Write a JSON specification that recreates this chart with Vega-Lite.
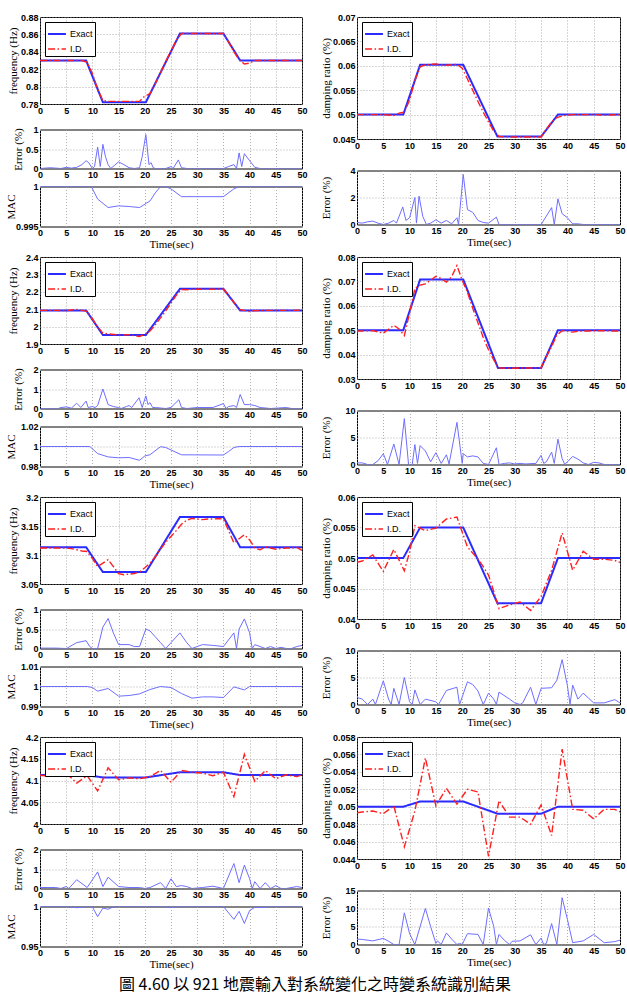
{
"$schema": "https://vega.github.io/schema/vega-lite/v6.json",
"padding": {"left": 4, "top": 12, "right": 5, "bottom": 1},
"config": {
  "view": {"stroke": "#000", "strokeWidth": 1},
  "axis": {"domain": false, "ticks": false, "tickSize": 0, "grid": true, "gridColor": "#9a9a9a", "gridDash": [1, 2], "gridWidth": 0.8,
    "labelFont": "Liberation Sans", "labelFontSize": 9, "labelFontWeight": "bold", "labelColor": "#000", "labelPadding": 2,
    "labelFlush": false, "labelOverlap": false, "labelBound": false,
    "titleFont": "Liberation Serif", "titleFontSize": 11, "titleFontWeight": "normal", "titleColor": "#000"},
  "axisX": {"titlePadding": 1},
  "legend": {"orient": "top-left", "offset": 5, "padding": 2, "strokeColor": "#000", "fillColor": "#fff", "labelFont": "Liberation Sans", "labelFontSize": 9, "labelColor": "#000", "labelOffset": 3, "symbolType": "stroke", "symbolSize": 320, "symbolStrokeWidth": 1.6, "rowPadding": 0, "cornerRadius": 0}
},
"datasets": {
"F1": [
{"s":"Exact","t":0,"v":0.83},{"s":"Exact","t":8.8,"v":0.83},{"s":"Exact","t":12,"v":0.782},{"s":"Exact","t":20.2,"v":0.782},{"s":"Exact","t":26.7,"v":0.861},{"s":"Exact","t":35,"v":0.861},{"s":"Exact","t":38.2,"v":0.83},{"s":"Exact","t":50,"v":0.83},
{"s":"I.D.","t":0,"v":0.830},{"s":"I.D.","t":2,"v":0.830},{"s":"I.D.","t":4,"v":0.830},{"s":"I.D.","t":6,"v":0.830},{"s":"I.D.","t":8,"v":0.830},{"s":"I.D.","t":9,"v":0.828},{"s":"I.D.","t":10,"v":0.815},{"s":"I.D.","t":11,"v":0.797},{"s":"I.D.","t":12,"v":0.784},{"s":"I.D.","t":13,"v":0.783},{"s":"I.D.","t":15,"v":0.783},{"s":"I.D.","t":17,"v":0.783},{"s":"I.D.","t":19,"v":0.783},{"s":"I.D.","t":20,"v":0.789},{"s":"I.D.","t":21,"v":0.792},{"s":"I.D.","t":22,"v":0.803},{"s":"I.D.","t":23,"v":0.816},{"s":"I.D.","t":24,"v":0.829},{"s":"I.D.","t":25,"v":0.841},{"s":"I.D.","t":26,"v":0.853},{"s":"I.D.","t":27,"v":0.861},{"s":"I.D.","t":29,"v":0.861},{"s":"I.D.","t":31,"v":0.861},{"s":"I.D.","t":33,"v":0.861},{"s":"I.D.","t":35,"v":0.861},{"s":"I.D.","t":36,"v":0.851},{"s":"I.D.","t":37,"v":0.840},{"s":"I.D.","t":38,"v":0.831},{"s":"I.D.","t":39,"v":0.826},{"s":"I.D.","t":40,"v":0.827},{"s":"I.D.","t":41,"v":0.830},{"s":"I.D.","t":43,"v":0.830},{"s":"I.D.","t":45,"v":0.830},{"s":"I.D.","t":47,"v":0.830},{"s":"I.D.","t":50,"v":0.830}],
"E1": [{"t":0,"v":0},{"t":2,"v":0.02},{"t":3,"v":0.01},{"t":4,"v":0},{"t":5,"v":0.03},{"t":6,"v":0.01},{"t":7,"v":0.03},{"t":8,"v":0.1},{"t":8.8,"v":0.2},{"t":9.3,"v":0.15},{"t":10,"v":0},{"t":10.4,"v":0.05},{"t":11,"v":0.55},{"t":11.5,"v":0.05},{"t":12,"v":0.62},{"t":12.5,"v":0.3},{"t":13,"v":0.1},{"t":13.5,"v":0},{"t":15,"v":0.17},{"t":16,"v":0.1},{"t":17,"v":0.02},{"t":18,"v":0},{"t":19,"v":0.02},{"t":19.5,"v":0.3},{"t":20.2,"v":0.87},{"t":20.8,"v":0.1},{"t":21.2,"v":0.15},{"t":21.6,"v":0.02},{"t":22,"v":0},{"t":24,"v":0},{"t":25,"v":0.05},{"t":25.4,"v":0},{"t":26.4,"v":0.22},{"t":27,"v":0.02},{"t":28,"v":0},{"t":35,"v":0},{"t":36,"v":0.05},{"t":37,"v":0.1},{"t":37.5,"v":0},{"t":38,"v":0.4},{"t":38.5,"v":0.05},{"t":39,"v":0.38},{"t":40,"v":0.2},{"t":41,"v":0.03},{"t":42,"v":0},{"t":50,"v":0}],
"M1": [{"t":0,"v":1},{"t":9.8,"v":1},{"t":11,"v":0.99843},{"t":13,"v":0.99737},{"t":15,"v":0.99758},{"t":17,"v":0.9975},{"t":19,"v":0.99737},{"t":21,"v":0.9982},{"t":22,"v":0.9992},{"t":23,"v":1},{"t":24,"v":1},{"t":25,"v":0.9997},{"t":27,"v":0.99873},{"t":35,"v":0.99873},{"t":37,"v":0.9997},{"t":38,"v":1},{"t":50,"v":1}],
"D1": [
{"s":"Exact","t":0,"v":0.05},{"s":"Exact","t":8.8,"v":0.05},{"s":"Exact","t":12,"v":0.0602},{"s":"Exact","t":20.2,"v":0.0602},{"s":"Exact","t":26.7,"v":0.0455},{"s":"Exact","t":35,"v":0.0455},{"s":"Exact","t":38.2,"v":0.05},{"s":"Exact","t":50,"v":0.05},
{"s":"I.D.","t":0,"v":0.05},{"s":"I.D.","t":3,"v":0.05},{"s":"I.D.","t":5,"v":0.05},{"s":"I.D.","t":7,"v":0.0498},{"s":"I.D.","t":8,"v":0.0503},{"s":"I.D.","t":9,"v":0.0505},{"s":"I.D.","t":10,"v":0.053},{"s":"I.D.","t":11,"v":0.057},{"s":"I.D.","t":12,"v":0.0598},{"s":"I.D.","t":13,"v":0.0602},{"s":"I.D.","t":15,"v":0.0604},{"s":"I.D.","t":16,"v":0.0602},{"s":"I.D.","t":17,"v":0.0601},{"s":"I.D.","t":19,"v":0.0603},{"s":"I.D.","t":20,"v":0.0595},{"s":"I.D.","t":21,"v":0.0573},{"s":"I.D.","t":22,"v":0.055},{"s":"I.D.","t":23,"v":0.0527},{"s":"I.D.","t":24,"v":0.0505},{"s":"I.D.","t":25,"v":0.0485},{"s":"I.D.","t":26,"v":0.0466},{"s":"I.D.","t":27,"v":0.0455},{"s":"I.D.","t":29,"v":0.0454},{"s":"I.D.","t":31,"v":0.0454},{"s":"I.D.","t":33,"v":0.0454},{"s":"I.D.","t":35,"v":0.0454},{"s":"I.D.","t":36,"v":0.047},{"s":"I.D.","t":37,"v":0.0485},{"s":"I.D.","t":38,"v":0.0494},{"s":"I.D.","t":39,"v":0.0497},{"s":"I.D.","t":40,"v":0.0499},{"s":"I.D.","t":41,"v":0.05},{"s":"I.D.","t":43,"v":0.05},{"s":"I.D.","t":45,"v":0.05},{"s":"I.D.","t":47,"v":0.0499},{"s":"I.D.","t":50,"v":0.05}],
"ER1": [{"t":0,"v":0.15},{"t":1,"v":0.1},{"t":2,"v":0.2},{"t":3,"v":0.25},{"t":4,"v":0.1},{"t":5,"v":0},{"t":6,"v":0.1},{"t":7,"v":0.3},{"t":7.5,"v":0.1},{"t":8.7,"v":1.3},{"t":9.3,"v":0.3},{"t":10,"v":0.5},{"t":11,"v":2.0},{"t":11.3,"v":0.1},{"t":11.8,"v":2.1},{"t":12.5,"v":0.6},{"t":13.2,"v":0},{"t":14,"v":0.1},{"t":15,"v":0.35},{"t":16,"v":0.1},{"t":17,"v":0.3},{"t":18,"v":0.05},{"t":19,"v":0.5},{"t":19.3,"v":0},{"t":20.2,"v":3.7},{"t":21,"v":1.1},{"t":22,"v":0.9},{"t":23,"v":0.3},{"t":24,"v":0.15},{"t":25,"v":0.1},{"t":26.5,"v":0.55},{"t":27,"v":0},{"t":35,"v":0},{"t":37,"v":1.25},{"t":37.5,"v":0},{"t":38.2,"v":1.9},{"t":39,"v":0.8},{"t":40,"v":0.5},{"t":41,"v":0.05},{"t":42,"v":0.05},{"t":43,"v":0},{"t":50,"v":0}],
"F2": [
{"s":"Exact","t":0,"v":2.093},{"s":"Exact","t":8.8,"v":2.093},{"s":"Exact","t":12,"v":1.952},{"s":"Exact","t":20.2,"v":1.952},{"s":"Exact","t":26.7,"v":2.217},{"s":"Exact","t":35,"v":2.217},{"s":"Exact","t":38.2,"v":2.093},{"s":"Exact","t":50,"v":2.093},
{"s":"I.D.","t":0,"v":2.093},{"s":"I.D.","t":3,"v":2.093},{"s":"I.D.","t":5,"v":2.092},{"s":"I.D.","t":7,"v":2.098},{"s":"I.D.","t":9,"v":2.088},{"s":"I.D.","t":10,"v":2.045},{"s":"I.D.","t":11,"v":2.0},{"s":"I.D.","t":12,"v":1.962},{"s":"I.D.","t":13,"v":1.958},{"s":"I.D.","t":15,"v":1.952},{"s":"I.D.","t":17,"v":1.953},{"s":"I.D.","t":19,"v":1.943},{"s":"I.D.","t":20,"v":1.955},{"s":"I.D.","t":21,"v":1.975},{"s":"I.D.","t":22,"v":2.01},{"s":"I.D.","t":23,"v":2.05},{"s":"I.D.","t":24,"v":2.09},{"s":"I.D.","t":25,"v":2.135},{"s":"I.D.","t":26,"v":2.18},{"s":"I.D.","t":27,"v":2.213},{"s":"I.D.","t":28,"v":2.212},{"s":"I.D.","t":30,"v":2.215},{"s":"I.D.","t":32,"v":2.215},{"s":"I.D.","t":35,"v":2.216},{"s":"I.D.","t":36,"v":2.18},{"s":"I.D.","t":37,"v":2.14},{"s":"I.D.","t":38,"v":2.098},{"s":"I.D.","t":39,"v":2.093},{"s":"I.D.","t":40,"v":2.087},{"s":"I.D.","t":41,"v":2.092},{"s":"I.D.","t":43,"v":2.093},{"s":"I.D.","t":45,"v":2.093},{"s":"I.D.","t":47,"v":2.093},{"s":"I.D.","t":50,"v":2.094}],
"E2": [{"t":0,"v":0},{"t":3.5,"v":0},{"t":4,"v":0.05},{"t":5,"v":0.08},{"t":6,"v":0.02},{"t":7,"v":0.27},{"t":7.8,"v":0.05},{"t":8.8,"v":0.38},{"t":9.2,"v":0.05},{"t":10,"v":0.1},{"t":10.5,"v":0.05},{"t":11,"v":0.15},{"t":12,"v":1.0},{"t":13,"v":0.2},{"t":14,"v":0.1},{"t":15,"v":0.05},{"t":15.5,"v":0},{"t":16.5,"v":0.1},{"t":17,"v":0.15},{"t":17.5,"v":0.05},{"t":18.9,"v":0.55},{"t":19.5,"v":0.05},{"t":20.2,"v":0.65},{"t":20.6,"v":0.2},{"t":21,"v":0.3},{"t":21.5,"v":0.05},{"t":22,"v":0.05},{"t":24,"v":0},{"t":25,"v":0.05},{"t":26.5,"v":0.45},{"t":27,"v":0.05},{"t":28,"v":0},{"t":30,"v":0.05},{"t":33,"v":0.05},{"t":35,"v":0.25},{"t":35.5,"v":0},{"t":36,"v":0.1},{"t":37,"v":0.15},{"t":37.5,"v":0.05},{"t":38.2,"v":0.72},{"t":39,"v":0.2},{"t":40,"v":0.2},{"t":41,"v":0.15},{"t":42,"v":0.05},{"t":44,"v":0},{"t":47,"v":0.05},{"t":48,"v":0},{"t":50,"v":0}],
"M2": [{"t":0,"v":1},{"t":9.5,"v":1},{"t":11,"v":0.9929},{"t":13,"v":0.9896},{"t":15,"v":0.9887},{"t":17,"v":0.989},{"t":19,"v":0.9862},{"t":20,"v":0.9905},{"t":21,"v":0.9918},{"t":23,"v":0.9998},{"t":24,"v":0.999},{"t":25,"v":0.9965},{"t":27,"v":0.9917},{"t":35,"v":0.9915},{"t":36,"v":0.995},{"t":37,"v":0.999},{"t":38,"v":1},{"t":50,"v":1}],
"D2": [
{"s":"Exact","t":0,"v":0.05},{"s":"Exact","t":8.8,"v":0.05},{"s":"Exact","t":12,"v":0.0708},{"s":"Exact","t":20.2,"v":0.0708},{"s":"Exact","t":26.8,"v":0.0345},{"s":"Exact","t":35,"v":0.0345},{"s":"Exact","t":38.2,"v":0.05},{"s":"Exact","t":50,"v":0.05},
{"s":"I.D.","t":0,"v":0.0497},{"s":"I.D.","t":1,"v":0.0497},{"s":"I.D.","t":3,"v":0.0498},{"s":"I.D.","t":5,"v":0.0488},{"s":"I.D.","t":7,"v":0.052},{"s":"I.D.","t":8,"v":0.0505},{"s":"I.D.","t":9,"v":0.0478},{"s":"I.D.","t":10,"v":0.057},{"s":"I.D.","t":11,"v":0.0671},{"s":"I.D.","t":12,"v":0.0685},{"s":"I.D.","t":13,"v":0.069},{"s":"I.D.","t":14,"v":0.0705},{"s":"I.D.","t":15,"v":0.0721},{"s":"I.D.","t":16,"v":0.0712},{"s":"I.D.","t":17,"v":0.0697},{"s":"I.D.","t":18,"v":0.072},{"s":"I.D.","t":19,"v":0.0765},{"s":"I.D.","t":20,"v":0.0705},{"s":"I.D.","t":21,"v":0.0655},{"s":"I.D.","t":22,"v":0.059},{"s":"I.D.","t":23,"v":0.053},{"s":"I.D.","t":24,"v":0.047},{"s":"I.D.","t":25,"v":0.042},{"s":"I.D.","t":26,"v":0.0378},{"s":"I.D.","t":27,"v":0.0345},{"s":"I.D.","t":29,"v":0.0344},{"s":"I.D.","t":31,"v":0.0345},{"s":"I.D.","t":33,"v":0.0345},{"s":"I.D.","t":35,"v":0.0346},{"s":"I.D.","t":36,"v":0.039},{"s":"I.D.","t":37,"v":0.0433},{"s":"I.D.","t":38,"v":0.048},{"s":"I.D.","t":39,"v":0.0498},{"s":"I.D.","t":40,"v":0.0496},{"s":"I.D.","t":41,"v":0.0492},{"s":"I.D.","t":42,"v":0.0496},{"s":"I.D.","t":44,"v":0.0497},{"s":"I.D.","t":46,"v":0.0498},{"s":"I.D.","t":48,"v":0.0497},{"s":"I.D.","t":50,"v":0.0497}],
"ER2": [{"t":0,"v":0.3},{"t":1,"v":0.3},{"t":2,"v":0},{"t":3,"v":0},{"t":4,"v":0.7},{"t":5,"v":2.0},{"t":5.8,"v":0},{"t":7,"v":3.8},{"t":8,"v":0},{"t":9,"v":8.5},{"t":9.8,"v":0},{"t":10.5,"v":0},{"t":11,"v":3.7},{"t":11.5,"v":0.2},{"t":12,"v":3.5},{"t":13,"v":2.5},{"t":14,"v":0.5},{"t":15,"v":2.2},{"t":16,"v":0.2},{"t":17,"v":1.8},{"t":17.5,"v":0.1},{"t":19,"v":7.8},{"t":20,"v":0.2},{"t":20.2,"v":2.0},{"t":21,"v":1.4},{"t":22,"v":1.6},{"t":23,"v":1.4},{"t":24,"v":0.2},{"t":25,"v":0},{"t":26.5,"v":3.1},{"t":27,"v":0},{"t":28,"v":0.2},{"t":29,"v":0.3},{"t":30,"v":0.1},{"t":31,"v":0.2},{"t":32,"v":0.1},{"t":34,"v":0.2},{"t":35,"v":1.7},{"t":35.5,"v":0.2},{"t":36,"v":0.5},{"t":37,"v":2.3},{"t":37.5,"v":0.2},{"t":38.2,"v":4.7},{"t":39,"v":1.1},{"t":39.5,"v":0},{"t":40,"v":0.5},{"t":41,"v":1.5},{"t":42,"v":1.0},{"t":43,"v":0.3},{"t":44,"v":0},{"t":45,"v":0.4},{"t":46,"v":0.3},{"t":47,"v":0},{"t":50,"v":0}],
"F3": [
{"s":"Exact","t":0,"v":3.1135},{"s":"Exact","t":8.8,"v":3.1135},{"s":"Exact","t":12,"v":3.0705},{"s":"Exact","t":20.2,"v":3.0705},{"s":"Exact","t":26.7,"v":3.1655},{"s":"Exact","t":35,"v":3.1655},{"s":"Exact","t":38.2,"v":3.1135},{"s":"Exact","t":50,"v":3.1135},
{"s":"I.D.","t":0,"v":3.112},{"s":"I.D.","t":2,"v":3.112},{"s":"I.D.","t":4,"v":3.112},{"s":"I.D.","t":5,"v":3.112},{"s":"I.D.","t":6,"v":3.111},{"s":"I.D.","t":7,"v":3.109},{"s":"I.D.","t":8,"v":3.107},{"s":"I.D.","t":9,"v":3.106},{"s":"I.D.","t":10,"v":3.094},{"s":"I.D.","t":11,"v":3.080},{"s":"I.D.","t":12,"v":3.086},{"s":"I.D.","t":13,"v":3.092},{"s":"I.D.","t":14,"v":3.080},{"s":"I.D.","t":15,"v":3.068},{"s":"I.D.","t":16,"v":3.066},{"s":"I.D.","t":17,"v":3.067},{"s":"I.D.","t":18,"v":3.068},{"s":"I.D.","t":19,"v":3.071},{"s":"I.D.","t":20,"v":3.078},{"s":"I.D.","t":21,"v":3.086},{"s":"I.D.","t":22,"v":3.097},{"s":"I.D.","t":23,"v":3.110},{"s":"I.D.","t":24,"v":3.122},{"s":"I.D.","t":25,"v":3.132},{"s":"I.D.","t":26,"v":3.142},{"s":"I.D.","t":27,"v":3.153},{"s":"I.D.","t":28,"v":3.160},{"s":"I.D.","t":29,"v":3.163},{"s":"I.D.","t":30,"v":3.162},{"s":"I.D.","t":31,"v":3.161},{"s":"I.D.","t":32,"v":3.162},{"s":"I.D.","t":33,"v":3.162},{"s":"I.D.","t":34,"v":3.163},{"s":"I.D.","t":35,"v":3.162},{"s":"I.D.","t":36,"v":3.142},{"s":"I.D.","t":37,"v":3.121},{"s":"I.D.","t":38,"v":3.128},{"s":"I.D.","t":39,"v":3.135},{"s":"I.D.","t":40,"v":3.126},{"s":"I.D.","t":41,"v":3.112},{"s":"I.D.","t":42,"v":3.109},{"s":"I.D.","t":43,"v":3.114},{"s":"I.D.","t":44,"v":3.112},{"s":"I.D.","t":45,"v":3.110},{"s":"I.D.","t":46,"v":3.111},{"s":"I.D.","t":47,"v":3.112},{"s":"I.D.","t":48,"v":3.112},{"s":"I.D.","t":49,"v":3.113},{"s":"I.D.","t":50,"v":3.108}],
"E3": [{"t":0,"v":0.01},{"t":3,"v":0.01},{"t":5,"v":0},{"t":5.3,"v":0.02},{"t":7,"v":0.15},{"t":8.8,"v":0.2},{"t":9.5,"v":0.05},{"t":10,"v":0},{"t":11,"v":0},{"t":12,"v":0.55},{"t":13,"v":0.77},{"t":14,"v":0.4},{"t":15,"v":0.1},{"t":17,"v":0.1},{"t":18,"v":0.05},{"t":19,"v":0.05},{"t":20.2,"v":0.5},{"t":21,"v":0.45},{"t":22,"v":0.3},{"t":23,"v":0.15},{"t":24,"v":0},{"t":25,"v":0.15},{"t":26.7,"v":0.4},{"t":28,"v":0.15},{"t":29,"v":0},{"t":30,"v":0.05},{"t":31,"v":0.1},{"t":33,"v":0.08},{"t":35,"v":0.05},{"t":37,"v":0.4},{"t":37.5,"v":0},{"t":38,"v":0.5},{"t":39,"v":0.76},{"t":40,"v":0.4},{"t":40.5,"v":0},{"t":41,"v":0.1},{"t":42,"v":0.05},{"t":43,"v":0},{"t":44,"v":0.05},{"t":45,"v":0},{"t":46,"v":0.03},{"t":47,"v":0},{"t":48,"v":0},{"t":49,"v":0.05},{"t":50,"v":0.08}],
"M3": [{"t":0,"v":1},{"t":9,"v":1},{"t":10,"v":0.9995},{"t":11,"v":0.99767},{"t":13,"v":0.999},{"t":15,"v":0.99517},{"t":17,"v":0.9955},{"t":19,"v":0.9963},{"t":21,"v":0.9985},{"t":23,"v":1},{"t":25,"v":0.9995},{"t":27,"v":0.9965},{"t":29,"v":0.99417},{"t":31,"v":0.9948},{"t":33,"v":0.9948},{"t":35,"v":0.9945},{"t":37,"v":0.9998},{"t":39,"v":0.9983},{"t":40,"v":1},{"t":50,"v":1}],
"D3": [
{"s":"Exact","t":0,"v":0.05},{"s":"Exact","t":8.8,"v":0.05},{"s":"Exact","t":12,"v":0.055},{"s":"Exact","t":20.2,"v":0.055},{"s":"Exact","t":26.7,"v":0.0426},{"s":"Exact","t":35,"v":0.0426},{"s":"Exact","t":38.2,"v":0.05},{"s":"Exact","t":50,"v":0.05},
{"s":"I.D.","t":0,"v":0.0493},{"s":"I.D.","t":1,"v":0.0495},{"s":"I.D.","t":3,"v":0.0505},{"s":"I.D.","t":5,"v":0.0478},{"s":"I.D.","t":7,"v":0.0514},{"s":"I.D.","t":9,"v":0.0479},{"s":"I.D.","t":10,"v":0.051},{"s":"I.D.","t":11,"v":0.0553},{"s":"I.D.","t":13,"v":0.0545},{"s":"I.D.","t":15,"v":0.0549},{"s":"I.D.","t":17,"v":0.0564},{"s":"I.D.","t":19,"v":0.0567},{"s":"I.D.","t":21,"v":0.0518},{"s":"I.D.","t":22,"v":0.0508},{"s":"I.D.","t":23,"v":0.0498},{"s":"I.D.","t":24,"v":0.0486},{"s":"I.D.","t":25,"v":0.0472},{"s":"I.D.","t":26,"v":0.0445},{"s":"I.D.","t":27,"v":0.0417},{"s":"I.D.","t":29,"v":0.0423},{"s":"I.D.","t":31,"v":0.0428},{"s":"I.D.","t":33,"v":0.0414},{"s":"I.D.","t":35,"v":0.0437},{"s":"I.D.","t":37,"v":0.048},{"s":"I.D.","t":39,"v":0.0541},{"s":"I.D.","t":41,"v":0.048},{"s":"I.D.","t":43,"v":0.0511},{"s":"I.D.","t":45,"v":0.0498},{"s":"I.D.","t":47,"v":0.0498},{"s":"I.D.","t":49,"v":0.0496},{"s":"I.D.","t":50,"v":0.0493}],
"ER3": [{"t":0,"v":1.3},{"t":1,"v":1.0},{"t":2,"v":0},{"t":3,"v":1.0},{"t":3.5,"v":0},{"t":5,"v":4.4},{"t":6,"v":1.0},{"t":6.5,"v":0},{"t":7,"v":3.0},{"t":8,"v":0},{"t":9,"v":5.0},{"t":10,"v":0.5},{"t":10.5,"v":0},{"t":11,"v":2.7},{"t":12,"v":0},{"t":13,"v":1.0},{"t":15,"v":0.5},{"t":15.5,"v":0},{"t":17,"v":2.6},{"t":19,"v":3.2},{"t":19.5,"v":0},{"t":21,"v":4.2},{"t":22,"v":3.7},{"t":23,"v":2.5},{"t":24,"v":0},{"t":25,"v":2.1},{"t":26,"v":1.0},{"t":26.5,"v":0},{"t":27,"v":2.3},{"t":29,"v":1.0},{"t":30,"v":0.3},{"t":31,"v":0},{"t":31.5,"v":0.3},{"t":33,"v":3.2},{"t":34,"v":0},{"t":35,"v":3.0},{"t":37,"v":3.1},{"t":38,"v":4.5},{"t":39,"v":8.3},{"t":40,"v":3.5},{"t":40.5,"v":0},{"t":41,"v":3.6},{"t":42,"v":1.0},{"t":43,"v":2.1},{"t":44,"v":1.2},{"t":45,"v":0.3},{"t":47,"v":0.3},{"t":49,"v":0.9},{"t":50,"v":0.3}],
"F4": [
{"s":"Exact","t":0,"v":4.1125},{"s":"Exact","t":8.8,"v":4.1125},{"s":"Exact","t":12,"v":4.107},{"s":"Exact","t":20.2,"v":4.107},{"s":"Exact","t":26.7,"v":4.119},{"s":"Exact","t":35,"v":4.119},{"s":"Exact","t":38.2,"v":4.1125},{"s":"Exact","t":50,"v":4.1125},
{"s":"I.D.","t":0,"v":4.112},{"s":"I.D.","t":1,"v":4.111},{"s":"I.D.","t":3,"v":4.112},{"s":"I.D.","t":5,"v":4.117},{"s":"I.D.","t":7,"v":4.094},{"s":"I.D.","t":9,"v":4.111},{"s":"I.D.","t":11,"v":4.076},{"s":"I.D.","t":13,"v":4.129},{"s":"I.D.","t":15,"v":4.102},{"s":"I.D.","t":17,"v":4.106},{"s":"I.D.","t":19,"v":4.104},{"s":"I.D.","t":21,"v":4.109},{"s":"I.D.","t":23,"v":4.123},{"s":"I.D.","t":25,"v":4.096},{"s":"I.D.","t":27,"v":4.123},{"s":"I.D.","t":29,"v":4.119},{"s":"I.D.","t":31,"v":4.117},{"s":"I.D.","t":33,"v":4.111},{"s":"I.D.","t":35,"v":4.119},{"s":"I.D.","t":37,"v":4.063},{"s":"I.D.","t":39,"v":4.16},{"s":"I.D.","t":41,"v":4.098},{"s":"I.D.","t":43,"v":4.123},{"s":"I.D.","t":45,"v":4.104},{"s":"I.D.","t":47,"v":4.113},{"s":"I.D.","t":49,"v":4.109},{"s":"I.D.","t":50,"v":4.113}],
"E4": [{"t":0,"v":0.05},{"t":3,"v":0.05},{"t":4,"v":0},{"t":5,"v":0.1},{"t":5.5,"v":0},{"t":7,"v":0.45},{"t":9,"v":0.05},{"t":11,"v":0.85},{"t":12,"v":0.1},{"t":13,"v":0.58},{"t":15,"v":0.1},{"t":17,"v":0.05},{"t":19,"v":0.05},{"t":20,"v":0},{"t":21,"v":0.05},{"t":23,"v":0.3},{"t":24,"v":0},{"t":25,"v":0.5},{"t":26,"v":0.1},{"t":27,"v":0.15},{"t":28,"v":0.1},{"t":29,"v":0},{"t":31,"v":0.05},{"t":33,"v":0.12},{"t":35,"v":0},{"t":37,"v":1.28},{"t":38,"v":0.3},{"t":39,"v":1.2},{"t":40,"v":0.5},{"t":40.5,"v":0},{"t":41,"v":0.35},{"t":42,"v":0},{"t":43,"v":0.3},{"t":44,"v":0},{"t":45,"v":0.15},{"t":46,"v":0},{"t":47,"v":0},{"t":49,"v":0.1},{"t":50,"v":0.05}],
"M4": [{"t":0,"v":1},{"t":5,"v":1},{"t":7,"v":0.9985},{"t":8,"v":0.999},{"t":9,"v":1},{"t":10,"v":0.9995},{"t":11,"v":0.9873},{"t":12,"v":0.998},{"t":13,"v":0.9966},{"t":14,"v":0.9995},{"t":15,"v":1},{"t":23,"v":1},{"t":25,"v":0.999},{"t":27,"v":1},{"t":35,"v":1},{"t":37,"v":0.9839},{"t":38,"v":0.994},{"t":39,"v":0.9788},{"t":40,"v":0.995},{"t":41,"v":0.999},{"t":43,"v":0.999},{"t":44,"v":1},{"t":50,"v":1}],
"D4": [
{"s":"Exact","t":0,"v":0.05},{"s":"Exact","t":8.8,"v":0.05},{"s":"Exact","t":12,"v":0.0506},{"s":"Exact","t":20.2,"v":0.0506},{"s":"Exact","t":26.7,"v":0.0492},{"s":"Exact","t":35,"v":0.0492},{"s":"Exact","t":38.2,"v":0.05},{"s":"Exact","t":50,"v":0.05},
{"s":"I.D.","t":0,"v":0.0493},{"s":"I.D.","t":1,"v":0.0494},{"s":"I.D.","t":3,"v":0.0495},{"s":"I.D.","t":5,"v":0.0492},{"s":"I.D.","t":7,"v":0.0501},{"s":"I.D.","t":9,"v":0.0454},{"s":"I.D.","t":11,"v":0.0495},{"s":"I.D.","t":13,"v":0.0556},{"s":"I.D.","t":15,"v":0.0501},{"s":"I.D.","t":17,"v":0.0521},{"s":"I.D.","t":19,"v":0.0503},{"s":"I.D.","t":21,"v":0.052},{"s":"I.D.","t":23,"v":0.0517},{"s":"I.D.","t":25,"v":0.0443},{"s":"I.D.","t":27,"v":0.0507},{"s":"I.D.","t":29,"v":0.0488},{"s":"I.D.","t":31,"v":0.0488},{"s":"I.D.","t":33,"v":0.048},{"s":"I.D.","t":35,"v":0.0502},{"s":"I.D.","t":37,"v":0.0467},{"s":"I.D.","t":39,"v":0.0566},{"s":"I.D.","t":41,"v":0.0497},{"s":"I.D.","t":43,"v":0.0496},{"s":"I.D.","t":45,"v":0.0486},{"s":"I.D.","t":47,"v":0.0497},{"s":"I.D.","t":49,"v":0.0497},{"s":"I.D.","t":50,"v":0.0494}],
"ER4": [{"t":0,"v":1.5},{"t":1,"v":1.4},{"t":3,"v":1.0},{"t":5,"v":1.7},{"t":6,"v":0.9},{"t":7,"v":0},{"t":8,"v":0},{"t":9,"v":8.8},{"t":10,"v":3.0},{"t":11,"v":0},{"t":13,"v":10.0},{"t":14,"v":5.0},{"t":15,"v":0.3},{"t":15.3,"v":1.0},{"t":16,"v":0},{"t":17,"v":3.2},{"t":18,"v":1.5},{"t":19,"v":0},{"t":19.5,"v":0.3},{"t":20,"v":0},{"t":21,"v":3.0},{"t":23,"v":2.8},{"t":24,"v":0},{"t":25,"v":10.1},{"t":26,"v":5.0},{"t":26.5,"v":0},{"t":27,"v":2.8},{"t":28,"v":1.2},{"t":29,"v":0},{"t":29.5,"v":0.9},{"t":31,"v":1.0},{"t":33,"v":2.7},{"t":34,"v":0},{"t":35,"v":1.8},{"t":35.5,"v":0},{"t":36,"v":0.3},{"t":37,"v":5.8},{"t":38,"v":0},{"t":39,"v":13.0},{"t":40,"v":7.0},{"t":41,"v":0.5},{"t":43,"v":1.0},{"t":45,"v":2.8},{"t":47,"v":0.5},{"t":49,"v":0.8},{"t":50,"v":1.2}]
},
"title": {"text": "圖 4.60 以 921 地震輸入對系統變化之時變系統識別結果", "orient": "bottom", "anchor": "middle", "font": "Noto Sans CJK TC", "fontSize": 16, "fontWeight": "normal", "color": "#000", "offset": 7},
"spacing": 2,
"resolve": {"scale": {"color": "independent", "strokeDash": "independent", "strokeWidth": "independent"}, "legend": {"color": "independent", "strokeDash": "independent", "strokeWidth": "independent"}},
"vconcat": [
{"hconcat": [
  {"vconcat": [
    {"width": 262, "height": 87, "data": {"name": "F1"}, "mark": {"type": "line", "clip": true},
     "encoding": {"x": {"field": "t", "type": "quantitative", "scale": {"domain": [0, 50], "nice": false}, "axis": {"values": [0,5,10,15,20,25,30,35,40,45,50], "format": "d", "title": null}},
      "y": {"field": "v", "type": "quantitative", "scale": {"domain": [0.78, 0.88], "nice": false, "zero": false}, "axis": {"values": [0.78,0.8,0.82,0.84,0.86,0.88], "format": "~r", "title": "frequency (Hz)", "minExtent": 20, "maxExtent": 20, "titlePadding": 1.5}},
      "color": {"field": "s", "type": "nominal", "scale": {"domain": ["Exact","I.D."], "range": ["#2b2bff","#ff1f1f"]}, "legend": {"title": null}},
      "strokeDash": {"field": "s", "type": "nominal", "scale": {"domain": ["Exact","I.D."], "range": [[1,0],[7,2.5,1.5,2.5]]}, "legend": {"title": null}},
      "strokeWidth": {"field": "s", "type": "ordinal", "scale": {"domain": ["Exact","I.D."], "range": [2,1.4]}, "legend": null}}},
    {"vconcat": [
      {"width": 262, "height": 39, "data": {"name": "E1"}, "mark": {"type": "line", "color": "#6e6eff", "strokeWidth": 1, "clip": true},
       "encoding": {"x": {"field": "t", "type": "quantitative", "scale": {"domain": [0, 50], "nice": false}, "axis": {"values": [0,5,10,15,20,25,30,35,40,45,50], "format": "d", "title": null}},
        "y": {"field": "v", "type": "quantitative", "scale": {"domain": [0, 1], "nice": false}, "axis": {"values": [0,0.5,1], "format": "~r", "title": "Error (%)", "minExtent": 15, "maxExtent": 15, "titlePadding": 1.5}}}},
      {"width": 262, "height": 40, "data": {"name": "M1"}, "mark": {"type": "line", "color": "#6e6eff", "strokeWidth": 1, "clip": true},
       "encoding": {"x": {"field": "t", "type": "quantitative", "scale": {"domain": [0, 50], "nice": false}, "axis": {"values": [0,5,10,15,20,25,30,35,40,45,50], "format": "d", "title": "Time(sec)"}},
        "y": {"field": "v", "type": "quantitative", "scale": {"domain": [0.995, 1], "nice": false, "zero": false}, "axis": {"values": [0.995,1], "format": "~r", "title": "MAC", "minExtent": 24, "maxExtent": 24, "titlePadding": 0}}}}
    ], "spacing": 1}
  ], "spacing": 8.5, "resolve": {"scale": {"color": "independent", "strokeDash": "independent", "strokeWidth": "independent"}, "legend": {"color": "independent", "strokeDash": "independent", "strokeWidth": "independent"}}},
  {"vconcat": [
    {"width": 263, "height": 122, "data": {"name": "D1"}, "mark": {"type": "line", "clip": true},
     "encoding": {"x": {"field": "t", "type": "quantitative", "scale": {"domain": [0, 50], "nice": false}, "axis": {"values": [0,5,10,15,20,25,30,35,40,45,50], "format": "d", "title": null}},
      "y": {"field": "v", "type": "quantitative", "scale": {"domain": [0.045, 0.07], "nice": false, "zero": false}, "axis": {"values": [0.045,0.05,0.055,0.06,0.065,0.07], "format": "~r", "title": "damping ratio (%)", "minExtent": 25, "maxExtent": 25, "titlePadding": 1}},
      "color": {"field": "s", "type": "nominal", "scale": {"domain": ["Exact","I.D."], "range": ["#2b2bff","#ff1f1f"]}, "legend": {"title": null}},
      "strokeDash": {"field": "s", "type": "nominal", "scale": {"domain": ["Exact","I.D."], "range": [[1,0],[7,2.5,1.5,2.5]]}, "legend": {"title": null}},
      "strokeWidth": {"field": "s", "type": "ordinal", "scale": {"domain": ["Exact","I.D."], "range": [2,1.4]}, "legend": null}}},
    {"width": 263, "height": 54, "data": {"name": "ER1"}, "mark": {"type": "line", "color": "#6e6eff", "strokeWidth": 1, "clip": true},
     "encoding": {"x": {"field": "t", "type": "quantitative", "scale": {"domain": [0, 50], "nice": false}, "axis": {"values": [0,5,10,15,20,25,30,35,40,45,50], "format": "d", "title": "Time(sec)"}},
      "y": {"field": "v", "type": "quantitative", "scale": {"domain": [0, 4], "nice": false}, "axis": {"values": [0,2,4], "format": "~r", "title": "Error (%)", "minExtent": 25, "maxExtent": 25, "titlePadding": 1}}}}
  ], "spacing": 14.5, "resolve": {"scale": {"color": "independent", "strokeDash": "independent", "strokeWidth": "independent"}, "legend": {"color": "independent", "strokeDash": "independent", "strokeWidth": "independent"}}}
], "spacing": 11, "resolve": {"scale": {"color": "independent", "strokeDash": "independent", "strokeWidth": "independent"}, "legend": {"color": "independent", "strokeDash": "independent", "strokeWidth": "independent"}}},
{"hconcat": [
  {"vconcat": [
    {"width": 262, "height": 87, "data": {"name": "F2"}, "mark": {"type": "line", "clip": true},
     "encoding": {"x": {"field": "t", "type": "quantitative", "scale": {"domain": [0, 50], "nice": false}, "axis": {"values": [0,5,10,15,20,25,30,35,40,45,50], "format": "d", "title": null}},
      "y": {"field": "v", "type": "quantitative", "scale": {"domain": [1.9, 2.4], "nice": false, "zero": false}, "axis": {"values": [1.9,2,2.1,2.2,2.3,2.4], "format": "~r", "title": "frequency (Hz)", "minExtent": 20, "maxExtent": 20, "titlePadding": 1.5}},
      "color": {"field": "s", "type": "nominal", "scale": {"domain": ["Exact","I.D."], "range": ["#2b2bff","#ff1f1f"]}, "legend": {"title": null}},
      "strokeDash": {"field": "s", "type": "nominal", "scale": {"domain": ["Exact","I.D."], "range": [[1,0],[7,2.5,1.5,2.5]]}, "legend": {"title": null}},
      "strokeWidth": {"field": "s", "type": "ordinal", "scale": {"domain": ["Exact","I.D."], "range": [2,1.4]}, "legend": null}}},
    {"vconcat": [
      {"width": 262, "height": 39, "data": {"name": "E2"}, "mark": {"type": "line", "color": "#6e6eff", "strokeWidth": 1, "clip": true},
       "encoding": {"x": {"field": "t", "type": "quantitative", "scale": {"domain": [0, 50], "nice": false}, "axis": {"values": [0,5,10,15,20,25,30,35,40,45,50], "format": "d", "title": null}},
        "y": {"field": "v", "type": "quantitative", "scale": {"domain": [0, 2], "nice": false}, "axis": {"values": [0,1,2], "format": "~r", "title": "Error (%)", "minExtent": 15, "maxExtent": 15, "titlePadding": 1.5}}}},
      {"width": 262, "height": 40, "data": {"name": "M2"}, "mark": {"type": "line", "color": "#6e6eff", "strokeWidth": 1, "clip": true},
       "encoding": {"x": {"field": "t", "type": "quantitative", "scale": {"domain": [0, 50], "nice": false}, "axis": {"values": [0,5,10,15,20,25,30,35,40,45,50], "format": "d", "title": "Time(sec)"}},
        "y": {"field": "v", "type": "quantitative", "scale": {"domain": [0.98, 1.02], "nice": false, "zero": false}, "axis": {"values": [0.98,1,1.02], "format": "~r", "title": "MAC", "minExtent": 24, "maxExtent": 24, "titlePadding": 0}}}}
    ], "spacing": 1}
  ], "spacing": 8.5, "resolve": {"scale": {"color": "independent", "strokeDash": "independent", "strokeWidth": "independent"}, "legend": {"color": "independent", "strokeDash": "independent", "strokeWidth": "independent"}}},
  {"vconcat": [
    {"width": 263, "height": 122, "data": {"name": "D2"}, "mark": {"type": "line", "clip": true},
     "encoding": {"x": {"field": "t", "type": "quantitative", "scale": {"domain": [0, 50], "nice": false}, "axis": {"values": [0,5,10,15,20,25,30,35,40,45,50], "format": "d", "title": null}},
      "y": {"field": "v", "type": "quantitative", "scale": {"domain": [0.03, 0.08], "nice": false, "zero": false}, "axis": {"values": [0.03,0.04,0.05,0.06,0.07,0.08], "format": "~r", "title": "damping ratio (%)", "minExtent": 25, "maxExtent": 25, "titlePadding": 1}},
      "color": {"field": "s", "type": "nominal", "scale": {"domain": ["Exact","I.D."], "range": ["#2b2bff","#ff1f1f"]}, "legend": {"title": null}},
      "strokeDash": {"field": "s", "type": "nominal", "scale": {"domain": ["Exact","I.D."], "range": [[1,0],[7,2.5,1.5,2.5]]}, "legend": {"title": null}},
      "strokeWidth": {"field": "s", "type": "ordinal", "scale": {"domain": ["Exact","I.D."], "range": [2,1.4]}, "legend": null}}},
    {"width": 263, "height": 54, "data": {"name": "ER2"}, "mark": {"type": "line", "color": "#6e6eff", "strokeWidth": 1, "clip": true},
     "encoding": {"x": {"field": "t", "type": "quantitative", "scale": {"domain": [0, 50], "nice": false}, "axis": {"values": [0,5,10,15,20,25,30,35,40,45,50], "format": "d", "title": "Time(sec)"}},
      "y": {"field": "v", "type": "quantitative", "scale": {"domain": [0, 10], "nice": false}, "axis": {"values": [0,5,10], "format": "d", "title": "Error (%)", "minExtent": 25, "maxExtent": 25, "titlePadding": 1}}}}
  ], "spacing": 14.5, "resolve": {"scale": {"color": "independent", "strokeDash": "independent", "strokeWidth": "independent"}, "legend": {"color": "independent", "strokeDash": "independent", "strokeWidth": "independent"}}}
], "spacing": 11, "resolve": {"scale": {"color": "independent", "strokeDash": "independent", "strokeWidth": "independent"}, "legend": {"color": "independent", "strokeDash": "independent", "strokeWidth": "independent"}}},
{"hconcat": [
  {"vconcat": [
    {"width": 262, "height": 87, "data": {"name": "F3"}, "mark": {"type": "line", "clip": true},
     "encoding": {"x": {"field": "t", "type": "quantitative", "scale": {"domain": [0, 50], "nice": false}, "axis": {"values": [0,5,10,15,20,25,30,35,40,45,50], "format": "d", "title": null}},
      "y": {"field": "v", "type": "quantitative", "scale": {"domain": [3.05, 3.2], "nice": false, "zero": false}, "axis": {"values": [3.05,3.1,3.15,3.2], "format": "~r", "title": "frequency (Hz)", "minExtent": 20, "maxExtent": 20, "titlePadding": 1.5}},
      "color": {"field": "s", "type": "nominal", "scale": {"domain": ["Exact","I.D."], "range": ["#2b2bff","#ff1f1f"]}, "legend": {"title": null}},
      "strokeDash": {"field": "s", "type": "nominal", "scale": {"domain": ["Exact","I.D."], "range": [[1,0],[7,2.5,1.5,2.5]]}, "legend": {"title": null}},
      "strokeWidth": {"field": "s", "type": "ordinal", "scale": {"domain": ["Exact","I.D."], "range": [2,1.4]}, "legend": null}}},
    {"vconcat": [
      {"width": 262, "height": 39, "data": {"name": "E3"}, "mark": {"type": "line", "color": "#6e6eff", "strokeWidth": 1, "clip": true},
       "encoding": {"x": {"field": "t", "type": "quantitative", "scale": {"domain": [0, 50], "nice": false}, "axis": {"values": [0,5,10,15,20,25,30,35,40,45,50], "format": "d", "title": null}},
        "y": {"field": "v", "type": "quantitative", "scale": {"domain": [0, 1], "nice": false}, "axis": {"values": [0,0.5,1], "format": "~r", "title": "Error (%)", "minExtent": 15, "maxExtent": 15, "titlePadding": 1.5}}}},
      {"width": 262, "height": 40, "data": {"name": "M3"}, "mark": {"type": "line", "color": "#6e6eff", "strokeWidth": 1, "clip": true},
       "encoding": {"x": {"field": "t", "type": "quantitative", "scale": {"domain": [0, 50], "nice": false}, "axis": {"values": [0,5,10,15,20,25,30,35,40,45,50], "format": "d", "title": "Time(sec)"}},
        "y": {"field": "v", "type": "quantitative", "scale": {"domain": [0.99, 1.01], "nice": false, "zero": false}, "axis": {"values": [0.99,1,1.01], "format": "~r", "title": "MAC", "minExtent": 24, "maxExtent": 24, "titlePadding": 0}}}}
    ], "spacing": 1}
  ], "spacing": 8.5, "resolve": {"scale": {"color": "independent", "strokeDash": "independent", "strokeWidth": "independent"}, "legend": {"color": "independent", "strokeDash": "independent", "strokeWidth": "independent"}}},
  {"vconcat": [
    {"width": 263, "height": 122, "data": {"name": "D3"}, "mark": {"type": "line", "clip": true},
     "encoding": {"x": {"field": "t", "type": "quantitative", "scale": {"domain": [0, 50], "nice": false}, "axis": {"values": [0,5,10,15,20,25,30,35,40,45,50], "format": "d", "title": null}},
      "y": {"field": "v", "type": "quantitative", "scale": {"domain": [0.04, 0.06], "nice": false, "zero": false}, "axis": {"values": [0.04,0.045,0.05,0.055,0.06], "format": "~r", "title": "damping ratio (%)", "minExtent": 25, "maxExtent": 25, "titlePadding": 1}},
      "color": {"field": "s", "type": "nominal", "scale": {"domain": ["Exact","I.D."], "range": ["#2b2bff","#ff1f1f"]}, "legend": {"title": null}},
      "strokeDash": {"field": "s", "type": "nominal", "scale": {"domain": ["Exact","I.D."], "range": [[1,0],[7,2.5,1.5,2.5]]}, "legend": {"title": null}},
      "strokeWidth": {"field": "s", "type": "ordinal", "scale": {"domain": ["Exact","I.D."], "range": [2,1.4]}, "legend": null}}},
    {"width": 263, "height": 54, "data": {"name": "ER3"}, "mark": {"type": "line", "color": "#6e6eff", "strokeWidth": 1, "clip": true},
     "encoding": {"x": {"field": "t", "type": "quantitative", "scale": {"domain": [0, 50], "nice": false}, "axis": {"values": [0,5,10,15,20,25,30,35,40,45,50], "format": "d", "title": "Time(sec)"}},
      "y": {"field": "v", "type": "quantitative", "scale": {"domain": [0, 10], "nice": false}, "axis": {"values": [0,5,10], "format": "d", "title": "Error (%)", "minExtent": 25, "maxExtent": 25, "titlePadding": 1}}}}
  ], "spacing": 14.5, "resolve": {"scale": {"color": "independent", "strokeDash": "independent", "strokeWidth": "independent"}, "legend": {"color": "independent", "strokeDash": "independent", "strokeWidth": "independent"}}}
], "spacing": 11, "resolve": {"scale": {"color": "independent", "strokeDash": "independent", "strokeWidth": "independent"}, "legend": {"color": "independent", "strokeDash": "independent", "strokeWidth": "independent"}}},
{"hconcat": [
  {"vconcat": [
    {"width": 262, "height": 87, "data": {"name": "F4"}, "mark": {"type": "line", "clip": true},
     "encoding": {"x": {"field": "t", "type": "quantitative", "scale": {"domain": [0, 50], "nice": false}, "axis": {"values": [0,5,10,15,20,25,30,35,40,45,50], "format": "d", "title": null}},
      "y": {"field": "v", "type": "quantitative", "scale": {"domain": [4, 4.2], "nice": false, "zero": false}, "axis": {"values": [4,4.05,4.1,4.15,4.2], "format": "~r", "title": "frequency (Hz)", "minExtent": 20, "maxExtent": 20, "titlePadding": 1.5}},
      "color": {"field": "s", "type": "nominal", "scale": {"domain": ["Exact","I.D."], "range": ["#2b2bff","#ff1f1f"]}, "legend": {"title": null}},
      "strokeDash": {"field": "s", "type": "nominal", "scale": {"domain": ["Exact","I.D."], "range": [[1,0],[7,2.5,1.5,2.5]]}, "legend": {"title": null}},
      "strokeWidth": {"field": "s", "type": "ordinal", "scale": {"domain": ["Exact","I.D."], "range": [2,1.4]}, "legend": null}}},
    {"vconcat": [
      {"width": 262, "height": 39, "data": {"name": "E4"}, "mark": {"type": "line", "color": "#6e6eff", "strokeWidth": 1, "clip": true},
       "encoding": {"x": {"field": "t", "type": "quantitative", "scale": {"domain": [0, 50], "nice": false}, "axis": {"values": [0,5,10,15,20,25,30,35,40,45,50], "format": "d", "title": null}},
        "y": {"field": "v", "type": "quantitative", "scale": {"domain": [0, 2], "nice": false}, "axis": {"values": [0,1,2], "format": "~r", "title": "Error (%)", "minExtent": 15, "maxExtent": 15, "titlePadding": 1.5}}}},
      {"width": 262, "height": 40, "data": {"name": "M4"}, "mark": {"type": "line", "color": "#6e6eff", "strokeWidth": 1, "clip": true},
       "encoding": {"x": {"field": "t", "type": "quantitative", "scale": {"domain": [0, 50], "nice": false}, "axis": {"values": [0,5,10,15,20,25,30,35,40,45,50], "format": "d", "title": "Time(sec)"}},
        "y": {"field": "v", "type": "quantitative", "scale": {"domain": [0.95, 1], "nice": false, "zero": false}, "axis": {"values": [0.95,1], "format": "~r", "title": "MAC", "minExtent": 24, "maxExtent": 24, "titlePadding": 0}}}}
    ], "spacing": 1}
  ], "spacing": 8.5, "resolve": {"scale": {"color": "independent", "strokeDash": "independent", "strokeWidth": "independent"}, "legend": {"color": "independent", "strokeDash": "independent", "strokeWidth": "independent"}}},
  {"vconcat": [
    {"width": 263, "height": 122, "data": {"name": "D4"}, "mark": {"type": "line", "clip": true},
     "encoding": {"x": {"field": "t", "type": "quantitative", "scale": {"domain": [0, 50], "nice": false}, "axis": {"values": [0,5,10,15,20,25,30,35,40,45,50], "format": "d", "title": null}},
      "y": {"field": "v", "type": "quantitative", "scale": {"domain": [0.044, 0.058], "nice": false, "zero": false}, "axis": {"values": [0.044,0.046,0.048,0.05,0.052,0.054,0.056,0.058], "format": "~r", "title": "damping ratio (%)", "minExtent": 25, "maxExtent": 25, "titlePadding": 1}},
      "color": {"field": "s", "type": "nominal", "scale": {"domain": ["Exact","I.D."], "range": ["#2b2bff","#ff1f1f"]}, "legend": {"title": null}},
      "strokeDash": {"field": "s", "type": "nominal", "scale": {"domain": ["Exact","I.D."], "range": [[1,0],[7,2.5,1.5,2.5]]}, "legend": {"title": null}},
      "strokeWidth": {"field": "s", "type": "ordinal", "scale": {"domain": ["Exact","I.D."], "range": [2,1.4]}, "legend": null}}},
    {"width": 263, "height": 54, "data": {"name": "ER4"}, "mark": {"type": "line", "color": "#6e6eff", "strokeWidth": 1, "clip": true},
     "encoding": {"x": {"field": "t", "type": "quantitative", "scale": {"domain": [0, 50], "nice": false}, "axis": {"values": [0,5,10,15,20,25,30,35,40,45,50], "format": "d", "title": "Time(sec)"}},
      "y": {"field": "v", "type": "quantitative", "scale": {"domain": [0, 15], "nice": false}, "axis": {"values": [0,5,10,15], "format": "d", "title": "Error (%)", "minExtent": 25, "maxExtent": 25, "titlePadding": 1}}}}
  ], "spacing": 14.5, "resolve": {"scale": {"color": "independent", "strokeDash": "independent", "strokeWidth": "independent"}, "legend": {"color": "independent", "strokeDash": "independent", "strokeWidth": "independent"}}}
], "spacing": 11, "resolve": {"scale": {"color": "independent", "strokeDash": "independent", "strokeWidth": "independent"}, "legend": {"color": "independent", "strokeDash": "independent", "strokeWidth": "independent"}}}
]
}
